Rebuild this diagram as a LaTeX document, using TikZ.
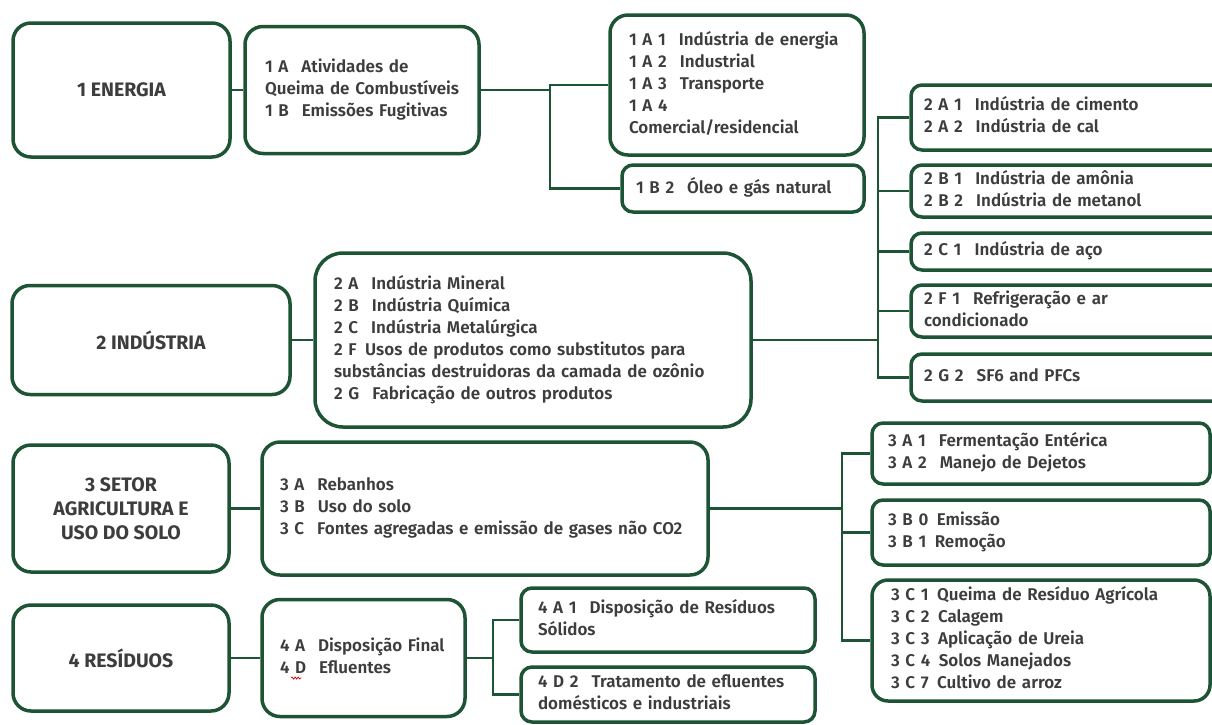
\documentclass[tikz,border=0pt]{standalone}
\usepackage{fontspec}
\IfFontExistsTF{Fira Sans SemiBold}
  {\setmainfont{Fira Sans SemiBold}[BoldFont={Fira Sans Bold}]}
  {\IfFontExistsTF{Fira Sans Medium}
    {\setmainfont{Fira Sans Medium}[BoldFont={Fira Sans Bold}]}
    {\setmainfont{Fira Sans}}}
\usepackage{xcolor}
\usetikzlibrary{decorations.pathmorphing}

\definecolor{boxgreen}{HTML}{1E5436}
\definecolor{textgray}{HTML}{3D3D3D}

\newcommand{\cgap}{\hspace{13pt}}
\newcommand{\itemlines}[1]{\begin{tabular}{@{}l@{}}#1\end{tabular}}

\begin{document}
\begin{tikzpicture}[x=1pt, y=-1pt,
  cat/.style={rectangle, draw=boxgreen, line width=3.5pt, rounded corners=18pt, fill=white, text=textgray, font=\fontsize{19.5}{24}\selectfont\bfseries, align=center},
  sub/.style={rectangle, draw=boxgreen, line width=3.5pt, rounded corners=18pt, fill=white, text=textgray, font=\fontsize{17}{22}\selectfont, align=left, inner ysep=0pt},
  leaf/.style={sub, rounded corners=11pt},
  link/.style={draw=boxgreen, line width=2.5pt},
  squiggle/.style={draw=red!85!black, line width=0.7pt, decorate, decoration={snake, amplitude=1pt, segment length=3pt}}
]
  \clip (0,0) rectangle (1212,724);
  \fill[white] (0,0) rectangle (1212,724);

  % sectors
  \node[cat, minimum width=217pt, minimum height=134pt] (n1) at (121.5,90) {1 ENERGIA};
  \node[cat, minimum width=278pt, minimum height=109pt] (n2) at (151,340) {2 INDÚSTRIA};
  \node[cat, minimum width=216pt, minimum height=127pt] (n3) at (121,508.5) {3 SETOR\\AGRICULTURA E\\USO DO SOLO};
  \node[cat, minimum width=216pt, minimum height=106pt] (n4) at (121,658) {4 RESÍDUOS};

  % 1 energia
  \node[sub, minimum width=234pt, minimum height=127pt, text width=194pt, inner xsep=20pt] (n1a) at (362,90)
    {\itemlines{1 A\cgap Atividades de\\Queima de Combustíveis\\1 B\cgap Emissões Fugitivas}};
  \node[sub, minimum width=254pt, minimum height=140pt, text width=216pt, inner xsep=19pt] (n1a1) at (737,85)
    {\itemlines{1 A 1\cgap Indústria de energia\\1 A 2\cgap Industrial\\1 A 3\cgap Transporte\\1 A 4\\Comercial/residencial}};
  \node[leaf, minimum width=242pt, minimum height=47pt, text width=214pt, inner xsep=14pt] (n1b2) at (743,188.5)
    {\itemlines{1 B 2\cgap Óleo e gás natural}};

  % 2 industria
  \node[sub, rounded corners=28pt, minimum width=436pt, minimum height=174pt, text width=398pt, inner xsep=19pt] (n2a) at (533,340)
    {\itemlines{2 A\cgap Indústria Mineral\\2 B\cgap Indústria Química\\2 C\cgap Indústria Metalúrgica\\2 F\enspace Usos de produtos como substitutos para\\substâncias destruidoras da camada de ozônio\\2 G\cgap Fabricação de outros produtos}};
  \node[leaf, minimum width=340pt, minimum height=65pt, text width=314pt, inner xsep=13pt] (n2a1) at (1081,117.5)
    {\itemlines{2 A 1\cgap Indústria de cimento\\2 A 2\cgap Indústria de cal}};
  \node[leaf, minimum width=340pt, minimum height=52pt, text width=314pt, inner xsep=13pt] (n2b1) at (1081,191)
    {\itemlines{2 B 1\cgap Indústria de amônia\\2 B 2\cgap Indústria de metanol}};
  \node[leaf, minimum width=340pt, minimum height=37pt, text width=314pt, inner xsep=13pt] (n2c1) at (1081,251.5)
    {\itemlines{2 C 1\cgap Indústria de aço}};
  \node[leaf, minimum width=340pt, minimum height=52pt, text width=314pt, inner xsep=13pt] (n2f1) at (1081,311)
    {\itemlines{2 F 1\cgap Refrigeração e ar\\condicionado}};
  \node[leaf, minimum width=340pt, minimum height=47pt, text width=314pt, inner xsep=13pt] (n2g2) at (1081,377.5)
    {\itemlines{2 G 2\cgap SF6 and PFCs}};

  % 3 agricultura
  \node[sub, minimum width=446pt, minimum height=133pt, text width=410pt, inner xsep=18pt] (n3a) at (485,508.5)
    {\itemlines{3 A\cgap Rebanhos\\3 B\cgap Uso do solo\\3 C\cgap Fontes agregadas e emissão de gases não CO2}};
  \node[leaf, minimum width=338pt, minimum height=61pt, text width=306pt, inner xsep=16pt] (n3a1) at (1041,453.5)
    {\itemlines{3 A 1\cgap Fermentação Entérica\\3 A 2\cgap Manejo de Dejetos}};
  \node[leaf, minimum width=338pt, minimum height=65pt, text width=306pt, inner xsep=16pt] (n3b0) at (1041,532.5)
    {\itemlines{3 B 0\enspace Emissão\\3 B 1\enspace Remoção}};
  \node[leaf, rounded corners=16pt, minimum width=338pt, minimum height=121pt, text width=300pt, inner xsep=19pt] (n3c1) at (1041,640.5)
    {\itemlines{3 C 1\enspace Queima de Resíduo Agrícola\\3 C 2\enspace Calagem\\3 C 3\enspace Aplicação de Ureia\\3 C 4\enspace Solos Manejados\\3 C 7\enspace Cultivo de arroz}};

  % 4 residuos
  \node[sub, minimum width=203pt, minimum height=117pt, text width=167pt, inner xsep=18pt] (n4a) at (363.5,658)
    {\itemlines{4 A\cgap Disposição Final\\4 D\cgap Efluentes}};
  \node[leaf, minimum width=294pt, minimum height=64pt, text width=260pt, inner xsep=17pt] (n4a1) at (668,620)
    {\itemlines{4 A 1\cgap Disposição de Resíduos\\Sólidos}};
  \node[leaf, minimum width=294pt, minimum height=55pt, text width=260pt, inner xsep=17pt] (n4d2) at (668,694.5)
    {\itemlines{4 D 2\cgap Tratamento de efluentes\\domésticos e industriais}};
  \draw[squiggle] ([xshift=31pt, yshift=-20pt]n4a.west) -- ([xshift=41pt, yshift=-20pt]n4a.west);

  % junctions
  \coordinate (j1) at (550,90);
  \coordinate (j2) at (878,340);
  \coordinate (j3) at (842,508.5);
  \coordinate (j4) at (493,658);

  % connectors
  \draw[link] (n1) -- (n1a);
  \draw[link] (n2) -- (n2a);
  \draw[link] (n3) -- (n3a);
  \draw[link] (n4) -- (n4a);

  \draw[link] (n1a) -- (j1) |- (n1a1);
  \draw[link] (j1) |- (n1b2);

  \draw[link] (n2a) -- (j2);
  \foreach \leafname in {n2a1, n2b1, n2c1, n2f1, n2g2}
    \draw[link] (j2) |- (\leafname);

  \draw[link] (n3a) -- (j3);
  \foreach \leafname in {n3a1, n3b0, n3c1}
    \draw[link] (j3) |- (\leafname);

  \draw[link] (n4a) -- (j4);
  \draw[link] (j4) |- (n4a1);
  \draw[link] (j4) |- (n4d2);
\end{tikzpicture}
\end{document}
